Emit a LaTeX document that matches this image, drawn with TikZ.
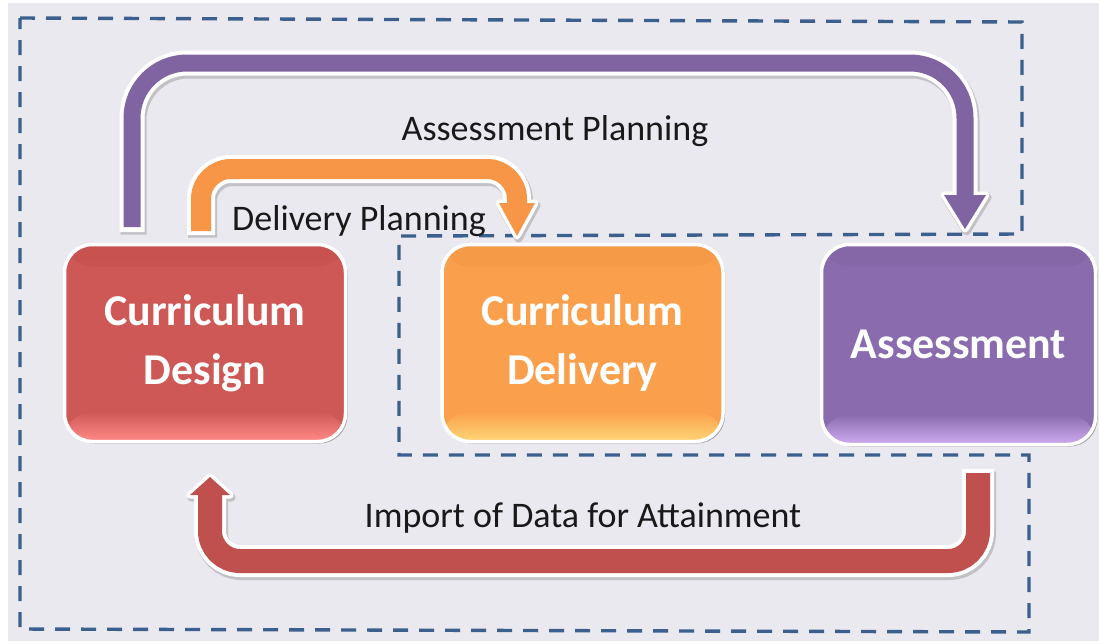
\documentclass[tikz,border=0pt]{standalone}
\usepackage{fontspec}
\setmainfont{Carlito}
\usetikzlibrary{shadows}
\definecolor{bgc}{RGB}{235,233,240}
\definecolor{dashc}{RGB}{60,96,142}
\definecolor{arP}{RGB}{128,100,162}
\definecolor{arO}{RGB}{247,150,70}
\definecolor{arR}{RGB}{192,80,77}
\definecolor{bxR}{RGB}{205,88,85}
\definecolor{bxRd}{RGB}{200,82,80}
\definecolor{bxRl}{RGB}{255,138,136}
\definecolor{bxO}{RGB}{250,160,76}
\definecolor{bxOd}{RGB}{245,154,70}
\definecolor{bxOl}{RGB}{255,214,118}
\definecolor{bxP}{RGB}{138,108,174}
\definecolor{bxPd}{RGB}{133,103,168}
\definecolor{bxPl}{RGB}{208,172,242}
\tikzset{
  mybox/.style n args={3}{draw=white, line width=3.5pt, rounded corners=28pt,
    fill=#1, text=white, align=center, inner sep=0pt,
    font=\bfseries\fontsize{44}{59}\selectfont,
    drop shadow={shadow xshift=2pt, shadow yshift=-2pt, fill=black, opacity=.3},
    path picture={
      \shade[top color=#2, bottom color=#1] (path picture bounding box.north west) rectangle ([yshift=-22pt]path picture bounding box.north east);
      \shade[top color=#1, bottom color=#3] ([yshift=30pt]path picture bounding box.south west) rectangle (path picture bounding box.south east);
    }},
  lbl/.style={font=\fontsize{36}{40}\selectfont, text=black!90, inner sep=0pt},
  dashline/.style={draw=dashc, line width=3.4pt, dash pattern=on 15pt off 11pt},
  shadowgrp/.style={transform canvas={xshift=1.5pt,yshift=-2.5pt}},
}
\begin{document}
\begin{tikzpicture}[x=1pt,y=-1pt]
\useasboundingbox (0,0) rectangle (1099,643);
\fill[white] (0,0) rectangle (1099,643);
\fill[bgc] (8,3) rectangle (1099,641);

% dashed outline
\draw[dashline] (20,18) -- (1022,22) -- (1022,234) -- (399,236) -- (399,455) -- (1029,455) -- (1029,632) -- (20,629) -- cycle;

% ---- coordinates for connectors
\coordinate (pTw) at (132,232); \coordinate (pT) at (132,227);
\coordinate (pA) at (132,63); \coordinate (pB) at (965,63); \coordinate (pH) at (965,195);
\coordinate (pL) at (944,195); \coordinate (pR) at (986,195); \coordinate (pTip) at (965,229);

\coordinate (oTw) at (201,235); \coordinate (oT) at (201,231);
\coordinate (oA) at (201,169); \coordinate (oB) at (517,169); \coordinate (oH) at (517,203);
\coordinate (oL) at (499,203); \coordinate (oR) at (535,203); \coordinate (oTip) at (517,236);

\coordinate (rTw) at (978,469); \coordinate (rT) at (978,473);
\coordinate (rA) at (978,561); \coordinate (rB) at (210,561); \coordinate (rH) at (210,495);
\coordinate (rL) at (190,495); \coordinate (rR) at (230,495); \coordinate (rTip) at (210,477);

% shadows
\begin{scope}[shadowgrp]
\begin{scope}[transparency group, opacity=.3]
\draw[black!60, line width=26pt, rounded corners=55pt] (pTw) -- (pA) -- (pB) -- (pH);
\draw[black!60, line width=8pt, line join=round, fill=black!60] (pL) -- (pTip) -- (pR) -- cycle;
\draw[black!60, line width=29pt, rounded corners=30pt] (oTw) -- (oA) -- (oB) -- (oH);
\draw[black!60, line width=8pt, line join=round, fill=black!60] (oL) -- (oTip) -- (oR) -- cycle;
\draw[black!60, line width=33pt, rounded corners=30pt] (rTw) -- (rA) -- (rB) -- (rH);
\draw[black!60, line width=8pt, line join=round, fill=black!60] (rL) -- (rTip) -- (rR) -- cycle;
\end{scope}
\end{scope}

% white outlines
\draw[white, line width=25pt, rounded corners=55pt] (pTw) -- (pA) -- (pB) -- (pH);
\draw[white, line width=7pt, line join=round] (pL) -- (pTip) -- (pR) -- cycle;
\draw[white, line width=28pt, rounded corners=30pt] (oTw) -- (oA) -- (oB) -- (oH);
\draw[white, line width=7pt, line join=round] (oL) -- (oTip) -- (oR) -- cycle;
\draw[white, line width=32pt, rounded corners=30pt] (rTw) -- (rA) -- (rB) -- (rH);
\draw[white, line width=7pt, line join=round] (rL) -- (rTip) -- (rR) -- cycle;

% coloured bands
\draw[arP, line width=17pt, rounded corners=55pt] (pT) -- (pA) -- (pB) -- (pH);
\fill[arP] (pL) -- (pTip) -- (pR) -- cycle;
\draw[arO, line width=20pt, rounded corners=30pt] (oT) -- (oA) -- (oB) -- (oH);
\fill[arO] (oL) -- (oTip) -- (oR) -- cycle;
\draw[arR, line width=24pt, rounded corners=30pt] (rT) -- (rA) -- (rB) -- (rH);
\fill[arR] (rL) -- (rTip) -- (rR) -- cycle;

% boxes
\node[mybox={bxR}{bxRd}{bxRl}, minimum width=281pt, minimum height=197pt] (design) at (205,343) {Curriculum\\Design};
\node[mybox={bxO}{bxOd}{bxOl}, minimum width=281pt, minimum height=197pt] (delivery) at (582.5,343) {Curriculum\\Delivery};
\node[mybox={bxP}{bxPd}{bxPl}, minimum width=274pt, minimum height=200pt] (assess) at (958.5,344.5) {Assessment};

% labels
\node[lbl, anchor=base] (lap) at (555,140) {Assessment Planning};
\node[lbl, anchor=base west] (ldp) at (232,230) {Delivery Planning};
\node[lbl, anchor=base] (lim) at (583,527) {Import of Data for Attainment};
\end{tikzpicture}
\end{document}
